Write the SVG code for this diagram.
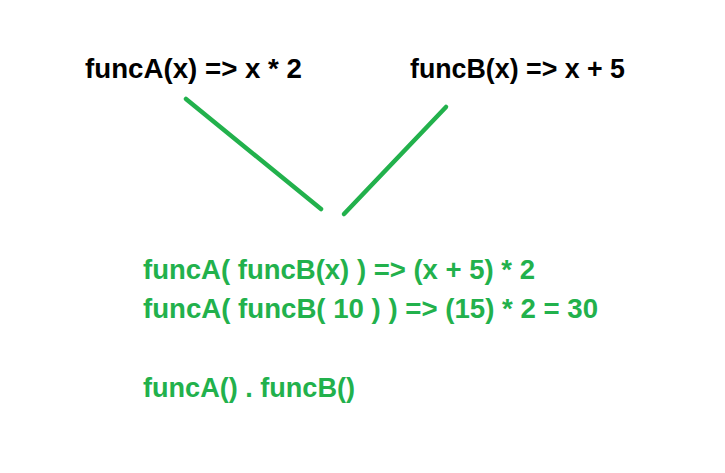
<svg xmlns="http://www.w3.org/2000/svg" width="725" height="473" viewBox="0 0 725 473">
<style>
text{font-family:"Liberation Sans",Arial,sans-serif;font-weight:bold;font-size:27px}
.blk{fill:#000}
.grn{fill:#22b14c}
.ln{stroke:#22b14c;stroke-width:4.5;stroke-linecap:round;fill:none}
</style>
<rect width="725" height="473" fill="#fff"/>
<g id="funcA"><text class="blk" x="85" y="78" textLength="217" lengthAdjust="spacingAndGlyphs">funcA(x) =&gt; x * 2</text></g>
<g id="funcB"><text class="blk" x="410" y="78" textLength="215" lengthAdjust="spacingAndGlyphs">funcB(x) =&gt; x + 5</text></g>
<g id="connectors">
<line class="ln" x1="186" y1="99" x2="321" y2="209"/>
<line class="ln" x1="446" y1="107" x2="344" y2="214"/>
</g>
<g id="result">
<text class="grn" x="143" y="279" textLength="392" lengthAdjust="spacingAndGlyphs">funcA( funcB(x) ) =&gt; (x + 5) * 2</text>
<text class="grn" x="143" y="318" textLength="455" lengthAdjust="spacingAndGlyphs">funcA( funcB( 10 ) ) =&gt; (15) * 2 = 30</text>
<text class="grn" x="143" y="397" textLength="212" lengthAdjust="spacingAndGlyphs">funcA() . funcB()</text>
</g>
</svg>
